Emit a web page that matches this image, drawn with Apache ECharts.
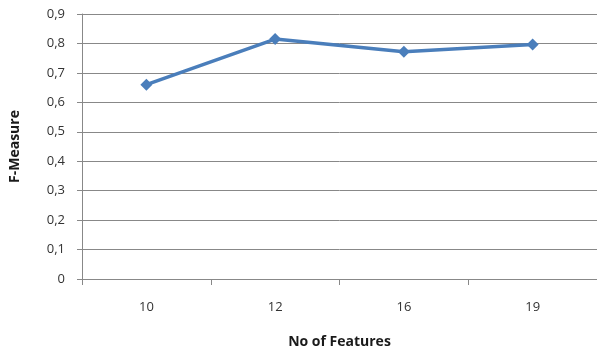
<!DOCTYPE html>
<html>
<head>
<meta charset="utf-8">
<style>
  html, body { margin: 0; padding: 0; background: #fff; }
  #chart { width: 597px; height: 356px; }
</style>
<script src="https://cdn.jsdelivr.net/npm/echarts@6/dist/echarts.min.js"></script>
</head>
<body>
<div id="chart"></div>
<script>
// Number of selected features and the resulting F-Measure
const features = ['10', '12', '16', '19'];
const fMeasure = [0.66, 0.815, 0.772, 0.796];
const yTicks = { min: 0, max: 0.9, step: 0.1 };

const chart = echarts.init(document.getElementById('chart'), null, { renderer: 'canvas' });
const labelFont = '"Open Sans", "DejaVu Sans", sans-serif';

chart.setOption({
  animation: false,
  backgroundColor: '#ffffff',
  grid: { left: 78, right: 0, top: 14, bottom: 77 },
  xAxis: {
    type: 'category',
    data: features,
    boundaryGap: true,
    name: 'No of Features',
    nameLocation: 'middle',
    nameGap: 56,
    nameTextStyle: { fontFamily: labelFont, fontWeight: 'bold', fontSize: 14, color: '#1a1a1a' },
    axisLine: { lineStyle: { color: '#888888', width: 1 } },
    axisTick: { show: true, alignWithLabel: false, length: 6, lineStyle: { color: '#888888' } },
    axisLabel: { fontFamily: labelFont, fontSize: 13, color: '#333333', margin: 22 },
    splitLine: { show: false }
  },
  yAxis: {
    type: 'value',
    min: yTicks.min,
    max: yTicks.max,
    interval: yTicks.step,
    name: 'F-Measure',
    nameLocation: 'middle',
    nameGap: 60,
    nameTextStyle: { fontFamily: labelFont, fontWeight: 'bold', fontSize: 14, color: '#1a1a1a' },
    axisLine: { show: true, lineStyle: { color: '#888888', width: 1 } },
    axisTick: { show: true, length: 5, inside: false, lineStyle: { color: '#888888' } },
    axisLabel: {
      fontFamily: labelFont, fontSize: 13, color: '#333333', margin: 17,
      formatter: v => (Math.round(v * 10) / 10).toString().replace('.', ',')
    },
    splitLine: { show: true, lineStyle: { color: '#888888', width: 1 } }
  },
  series: [{
    type: 'line',
    data: fMeasure,
    symbol: 'diamond',
    symbolSize: 12,
    lineStyle: { color: '#4a7ebb', width: 3.5 },
    itemStyle: { color: '#4a7ebb' },
    emphasis: { disabled: true }
  }]
});
</script>
</body>
</html>
